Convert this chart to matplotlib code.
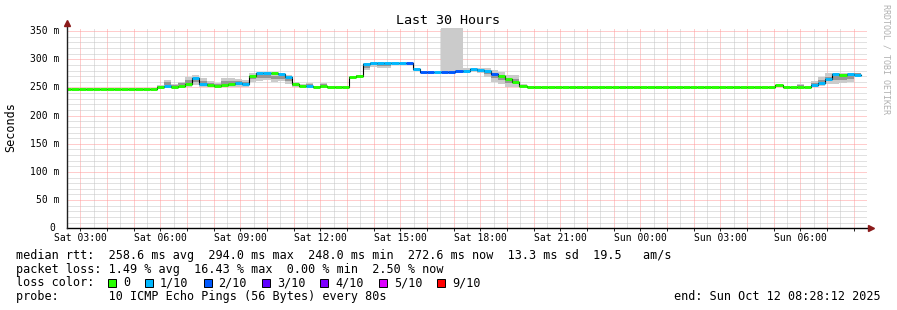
#!/usr/bin/env python
# -*- coding: utf-8 -*-

# ~~~~~~~~~~~~~~~~~~~~~~~~~~~~~~~~~~~~~~~~~~~~~~~~~~~~~~~~~~~~~~~~~~~~~~~~~~~~~~
# Smokeping latency graph - last 30 hours (median rtt coloured by packet loss)
# ~~~~~~~~~~~~~~~~~~~~~~~~~~~~~~~~~~~~~~~~~~~~~~~~~~~~~~~~~~~~~~~~~~~~~~~~~~~~~~

#-------------------------------------------------------------------------------
#                                    MODULES
#-------------------------------------------------------------------------------
import numpy as np
import matplotlib
matplotlib.use('Agg')
from matplotlib import pyplot as plt
from matplotlib.ticker import MultipleLocator, FuncFormatter
from matplotlib.patches import Rectangle


#-------------------------------------------------------------------------------
#                                     DATA
#-------------------------------------------------------------------------------
# time in hours since Sat 00:00, one consolidated sample every 16 min
first_bin_h = 2.4
bin_h = 16 / 60.0
t_min, t_max = 2.5, 32.5

# median round trip time per bin (ms)
median_ms = [248.0] * 13 + [
    251, 252.5, 251.5, 252.5, 257, 267, 256, 254, 252, 255,
    257, 258.5, 256, 270, 275, 276, 275, 273, 268, 255.5,
    252.5, 252.5, 251, 252, 251, 251, 251, 268, 271, 291,
    294, 294, 294, 294, 294, 294, 282, 277, 277, 277,
    277, 277, 279, 279, 282, 281, 279, 274, 271, 264.5,
    259, 253, 251] + [250.5] * 34 + [
    253.5, 250.5, 250.5, 250.5, 250.5, 253.5, 258.5, 265, 274, 272.5,
    274, 272.6]

# lost pings (out of 10) per bin
loss = [0] * 13 + [
    0, 1, 0, 0, 0, 1, 1, 0, 0, 0,
    0, 1, 1, 0, 1, 1, 0, 1, 1, 0,
    0, 1, 0, 0, 0, 0, 0, 0, 0, 1,
    1, 1, 1, 1, 1, 2, 1, 2, 2, 1,
    2, 2, 2, 1, 1, 1, 1, 2, 0, 0,
    0, 0, 0] + [0] * 34 + [
    0, 0, 0, 0, 0, 1, 1, 1, 1, 0,
    1, 1]

# smoke (spread of the single pings) per bin (ms)
smoke_lo = [248.0] * 13 + [
    249, 250, 250, 251, 251, 254, 251, 250, 251, 250,
    251, 251, 250, 260, 262, 263, 260, 262, 257, 250,
    250, 250, 251, 251, 250, 250, 250, 267, 270, 281,
    287, 285, 285, 292, 294, 294, 280, 277, 277, 277,
    277, 277, 278, 275, 278, 275, 269, 260, 257, 251,
    251, 251, 250] + [250.5] * 34 + [
    251, 250, 250, 250, 250, 251, 253, 256, 257, 258,
    260, 272]
smoke_hi = [248.0] * 13 + [
    255, 263, 256, 260, 269, 272, 266, 262, 258, 266,
    266, 265, 263, 275, 276, 277, 276, 274, 272, 260,
    257, 258, 251, 258, 252, 252, 252, 270, 272, 293,
    295, 295, 295, 295, 294, 294, 283, 277, 277, 277,
    360, 360, 360, 284, 284, 284, 284, 281, 278, 272,
    272, 257, 252] + [250.5] * 34 + [
    254, 252, 250.5, 256, 250.5, 262, 268, 275, 276, 276,
    276, 276]

loss_labels = ['0', '1/10', '2/10', '3/10', '4/10', '5/10', '9/10']
loss_colors = ['#26ff00', '#00b8ff', '#0059ff', '#5e00ff', '#7e00ff',
               '#dd00ff', '#ff0000']

x_tick_hours = [3, 6, 9, 12, 15, 18, 21, 24, 27, 30]
x_tick_labels = ['Sat 03:00', 'Sat 06:00', 'Sat 09:00', 'Sat 12:00',
                 'Sat 15:00', 'Sat 18:00', 'Sat 21:00', 'Sun 00:00',
                 'Sun 03:00', 'Sun 06:00']
y_tick_values = [0, 50, 100, 150, 200, 250, 300, 350]
y_tick_labels = ['0', '50 m', '100 m', '150 m', '200 m', '250 m', '300 m',
                 '350 m']

legend_rtt = ('median rtt:  258.6 ms avg  294.0 ms max  248.0 ms min  '
              '272.6 ms now  13.3 ms sd  19.5   am/s')
legend_loss = 'packet loss: 1.49 % avg  16.43 % max  0.00 % min  2.50 % now'
legend_probe = 'probe:       10 ICMP Echo Pings (56 Bytes) every 80s'
legend_end = 'end: Sun Oct 12 08:28:12 2025'


#-------------------------------------------------------------------------------
#                                   FUNCTIONS
#-------------------------------------------------------------------------------
W, H = 897.0, 310.0


def fx(x):
    return x / W


def fy(y):
    return 1 - y / H


def loss_color(n):
    if n <= 5:
        return loss_colors[n]
    return loss_colors[-1]


def main():
    plt.rcParams['font.family'] = 'DejaVu Sans Mono'
    fig = plt.figure(figsize=(W / 100, H / 100), dpi=100)
    fig.patch.set_facecolor('white')
    ax = fig.add_axes([fx(67), fy(228.3), fx(800), 200 / H])
    ax.set_xlim(t_min, t_max)
    ax.set_ylim(0, 355)
    for s in ax.spines.values():
        s.set_visible(False)

    # grid
    ax.xaxis.set_major_locator(MultipleLocator(1))
    ax.xaxis.set_minor_locator(MultipleLocator(0.5))
    ax.yaxis.set_major_locator(MultipleLocator(50))
    ax.yaxis.set_minor_locator(MultipleLocator(10))
    ax.grid(which='major', color='#ff9a9a', lw=0.72, ls=(0, (1, 1)))
    ax.grid(which='minor', color='#c4c4c4', lw=0.72, ls=(0, (1, 1)))
    ax.set_axisbelow(True)

    lookup = dict(zip(x_tick_hours, x_tick_labels))
    ax.xaxis.set_major_formatter(
        FuncFormatter(lambda v, p: lookup.get(int(round(v)), '')))
    ax.tick_params(axis='x', which='major', length=2, width=0.7, pad=1.5,
                   labelsize=7, color='#202020')
    ax.tick_params(axis='x', which='minor', length=0)
    ax.tick_params(axis='y', which='both', length=0, labelleft=False)

    # y labels by hand (rrdtool keeps a blank unit behind the 0)
    for v, lab in zip(y_tick_values, y_tick_labels):
        off = -7.5 if lab.endswith('m') else -11.5
        ax.annotate(lab, xy=(0, v), xycoords=('axes fraction', 'data'),
                    xytext=(off, 0), textcoords='offset pixels',
                    ha='right', va='center', fontsize=7)

    # smoke
    n = len(median_ms)
    starts = first_bin_h + bin_h * np.arange(n)
    lo = np.array(smoke_lo, dtype=float)
    hi = np.array(smoke_hi, dtype=float)
    ax.bar(starts, hi - lo, bottom=lo, width=bin_h, align='edge',
           color='#cbcbcb', lw=0, zorder=2)
    rng = hi - lo
    core = (rng > 0) & (rng < 60)
    ax.bar(starts[core], 0.4 * rng[core], bottom=lo[core] + 0.3 * rng[core],
           width=bin_h, align='edge', color='#959595', lw=0, zorder=2)

    # median line
    med = np.array(median_ms, dtype=float)
    edges = np.append(starts, starts[-1] + bin_h)
    ax.step(edges, np.append(med, med[-1]), where='post', color='#000000',
            lw=0.8, zorder=3)
    ax.hlines(med, starts, starts + bin_h,
              colors=[loss_color(l) for l in loss], lw=2.1,
              capstyle='butt', zorder=4)

    # axes with arrows
    ax.plot([t_min, t_max + 0.1], [0, 0], color='#000000', lw=1,
            clip_on=False, zorder=5)
    ax.plot([t_min, t_min], [0, 363], color='#202020', lw=1,
            clip_on=False, zorder=5)
    ax.plot([t_max + 0.15], [0], marker='>', ms=4, color='#8b1a1a',
            clip_on=False, zorder=6)
    ax.plot([t_min], [364], marker='^', ms=4, color='#8b1a1a',
            clip_on=False, zorder=6)

    # texts
    fig.text(fx(448), fy(24), 'Last 30 Hours', ha='center', va='baseline',
             fontsize=9.6)
    fig.text(fx(10.5), fy(127.5), 'Seconds', rotation=90, ha='center',
             va='center', fontsize=8.5)
    fig.text(fx(886), fy(4), 'RRDTOOL / TOBI OETIKER', rotation=270,
             ha='center', va='top', fontsize=6, color='#b0b0b0')

    fs = 8.45
    fig.text(fx(16), fy(258.5), legend_rtt, va='baseline', fontsize=fs)
    fig.text(fx(16), fy(272.5), legend_loss, va='baseline', fontsize=fs)
    fig.text(fx(16), fy(286.5), 'loss color:', va='baseline', fontsize=fs)
    fig.text(fx(16), fy(300), legend_probe, va='baseline', fontsize=fs)
    fig.text(fx(881), fy(300), legend_end, ha='right', va='baseline',
             fontsize=fs)

    x = 108.0
    for lab, col in zip(loss_labels, loss_colors):
        fig.add_artist(Rectangle((fx(x), fy(287)), 8 / W, 8 / H,
                                 transform=fig.transFigure, fc=col,
                                 ec='#000000', lw=0.7))
        fig.text(fx(x + 15), fy(286.5), lab, va='baseline', fontsize=fs)
        x += 15 + len(lab) * 7.1 + 15

    fig.savefig('out.png', dpi=100)


#-------------------------------------------------------------------------------
#                                 RUNNING
#-------------------------------------------------------------------------------
if __name__ == '__main__':
    main()
